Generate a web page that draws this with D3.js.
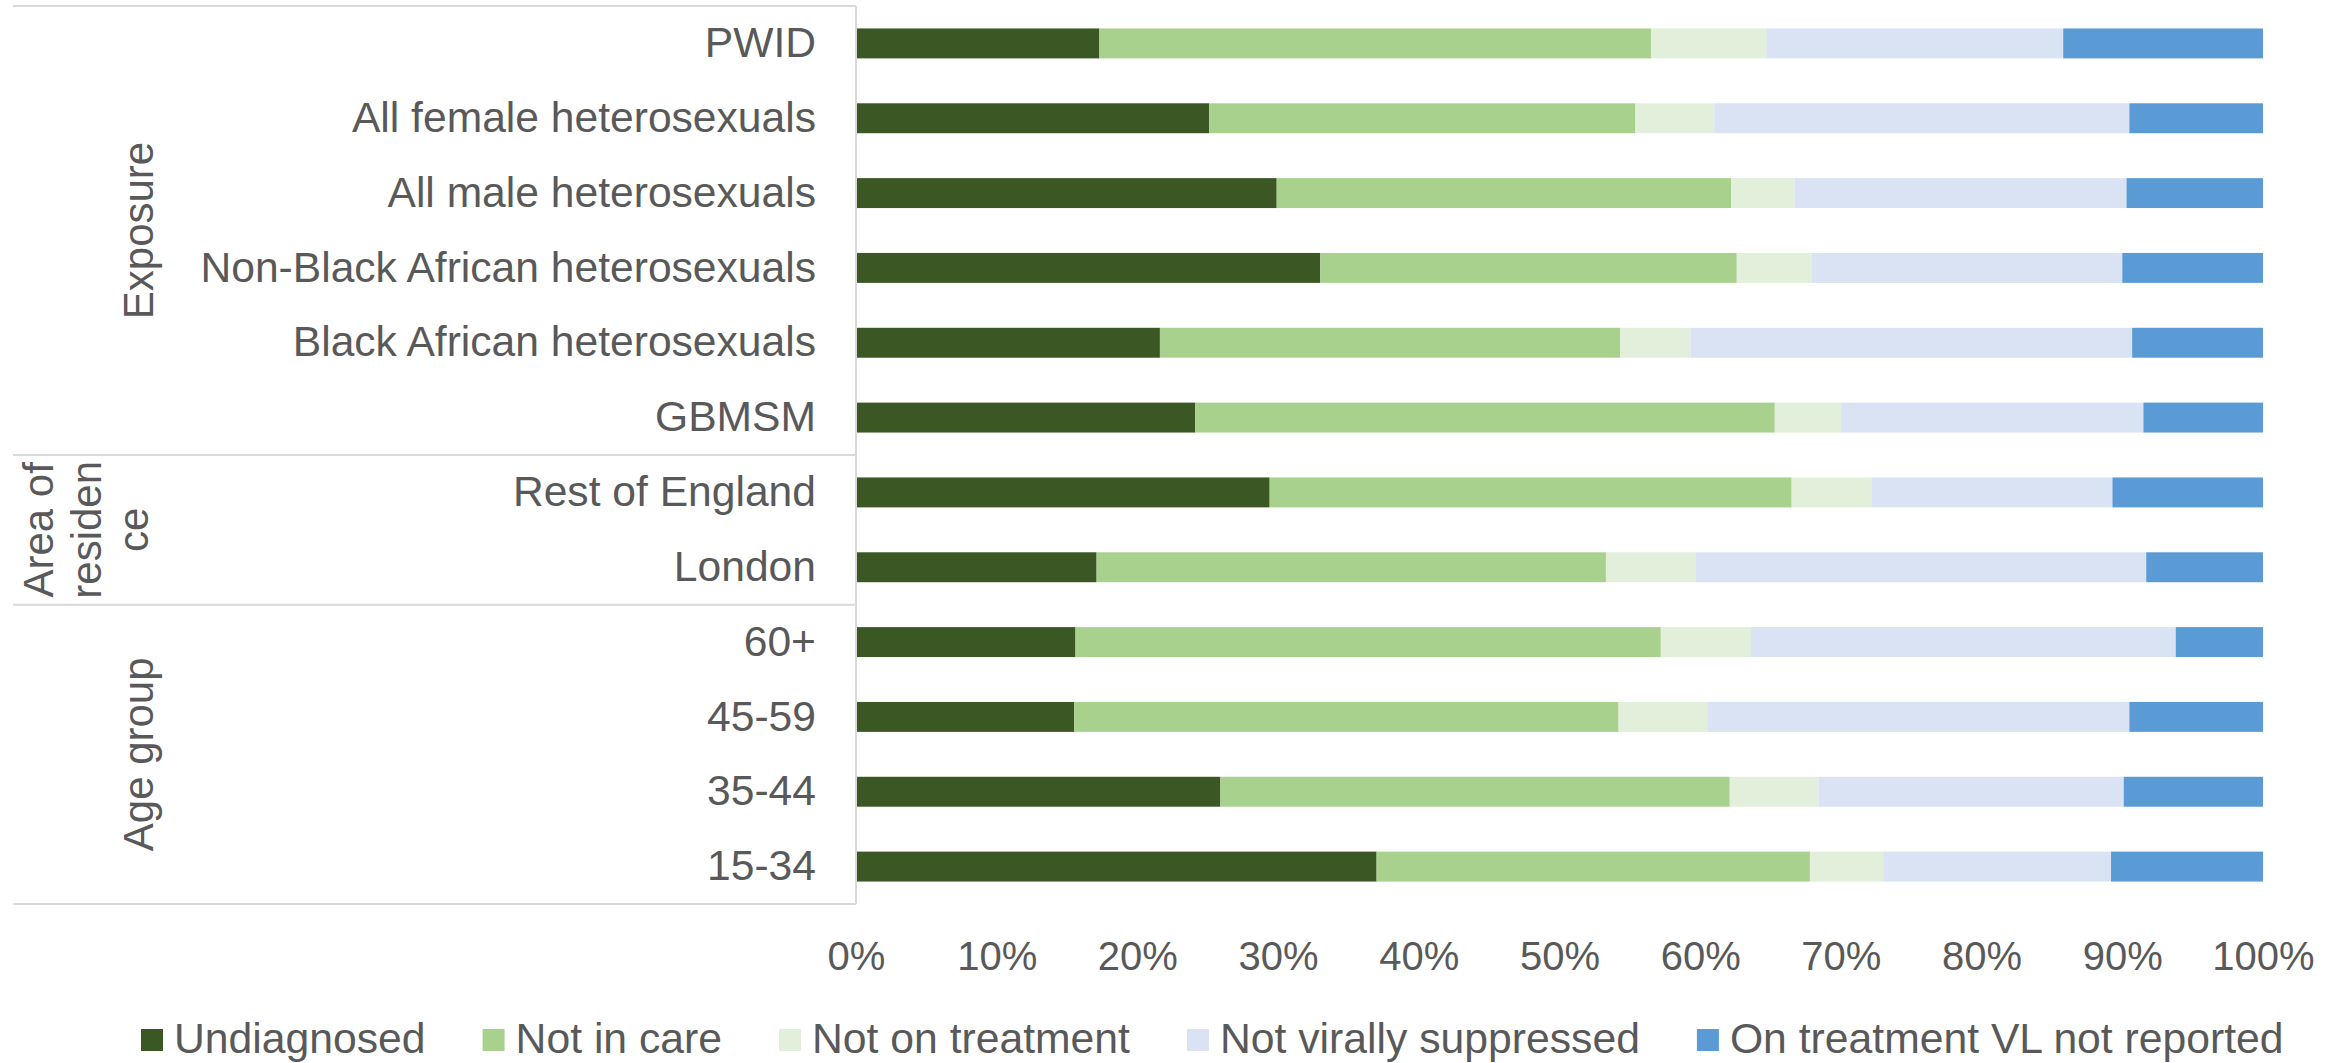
<!DOCTYPE html>
<html>
<head>
<meta charset="utf-8">
<script src="https://cdn.jsdelivr.net/npm/d3@7"></script>
<style>
  body { margin: 0; background: #fff; }
  text { font-family: "Liberation Sans", Arial, sans-serif; fill: #595959; }
</style>
</head>
<body>
<div id="chart"></div>
<script>
// categories, top to bottom
const categories = ["PWID", "All female heterosexuals", "All male heterosexuals",
  "Non-Black African heterosexuals", "Black African heterosexuals", "GBMSM",
  "Rest of England", "London", "60+", "45-59", "35-44", "15-34"];

const groupNames = [["Exposure"], ["Area of", "residen", "ce"], ["Age group"]];
const groupSizes = [6, 2, 4];

const seriesNames = ["Undiagnosed", "Not in care", "Not on treatment",
  "Not virally suppressed", "On treatment VL not reported"];
const seriesColors = ["#3a5724", "#a9d18e", "#e2efda", "#dae3f3", "#5b9bd5"];

// percentages, same order as categories
const undiagnosed   = [17.3, 25.1, 29.9, 33.0, 21.6, 24.1, 29.4, 17.1, 15.6, 15.5, 25.9, 37.0];
const notInCare     = [39.2, 30.3, 32.3, 29.6, 32.7, 41.2, 37.1, 36.2, 41.6, 38.7, 36.2, 30.8];
const notOnTreat    = [8.2, 5.6, 4.5, 5.3, 5.0, 4.7, 5.7, 6.4, 6.4, 6.3, 6.3, 5.2];
const notSuppressed = [21.1, 29.5, 23.6, 22.1, 31.4, 21.5, 17.1, 32.0, 30.2, 30.0, 21.7, 16.2];
const vlNotReported = [14.2, 9.5, 9.7, 10.0, 9.3, 8.5, 10.7, 8.3, 6.2, 9.5, 9.9, 10.8];

const tickValues = [0, 10, 20, 30, 40, 50, 60, 70, 80, 90, 100];

const allSeries = [undiagnosed, notInCare, notOnTreat, notSuppressed, vlNotReported];
const rows = categories.map((c, i) => {
  const r = { cat: c };
  seriesNames.forEach((s, j) => r[s] = allSeries[j][i]);
  return r;
});

const width = 2343, height = 1063;
const frameLeft = 13, plotLeft = 856, plotRight = 2263, plotTop = 6, plotBottom = 904;
const lineColor = "#d9d9d9";

const svg = d3.select("#chart").append("svg")
  .attr("width", width)
  .attr("height", height);

const x = d3.scaleLinear().domain([0, 100]).range([plotLeft, plotRight]);
const y = d3.scaleBand().domain(categories).range([plotTop, plotBottom])
  .paddingInner(0.6).paddingOuter(0.3);
const color = d3.scaleOrdinal().domain(seriesNames).range(seriesColors);

const stacked = d3.stack().keys(seriesNames)(rows);

svg.append("g")
  .selectAll("g")
  .data(stacked)
  .join("g")
  .attr("fill", d => color(d.key))
  .selectAll("rect")
  .data(d => d)
  .join("rect")
  .attr("x", d => x(d[0]))
  .attr("y", d => y(d.data.cat))
  .attr("width", d => x(d[1]) - x(d[0]))
  .attr("height", y.bandwidth());

// frame of the category table
const step = y.step();
const frame = svg.append("g").attr("stroke", lineColor).attr("stroke-width", 2);
frame.append("line")
  .attr("x1", plotLeft).attr("x2", plotLeft)
  .attr("y1", plotTop).attr("y2", plotBottom);
let idx = 0;
const bounds = [0];
groupSizes.forEach(n => { idx += n; bounds.push(idx); });
frame.selectAll("line.sep")
  .data(bounds)
  .join("line")
  .attr("class", "sep")
  .attr("x1", frameLeft).attr("x2", plotLeft)
  .attr("y1", d => plotTop + d * step)
  .attr("y2", d => plotTop + d * step);

// group labels, rotated
groupNames.forEach((lines, i) => {
  const yc = plotTop + (bounds[i] + bounds[i + 1]) / 2 * step;
  const t = svg.append("text")
    .attr("transform", `translate(${lines.length > 1 ? 53 : 153},${yc}) rotate(-90)`)
    .attr("text-anchor", "middle")
    .style("font-size", "42px");
  lines.forEach((l, k) => {
    t.append("tspan").attr("x", 0).attr("y", k * 47.5).text(l);
  });
});

// category axis
const yAxis = svg.append("g")
  .attr("transform", `translate(${plotLeft},0)`)
  .call(d3.axisLeft(y).tickSize(0).tickPadding(40));
yAxis.select(".domain").remove();
yAxis.selectAll("text")
  .style("font-size", "42.6px")
  .attr("font-family", null)
  .attr("fill", null);

// percent axis
const xAxis = svg.append("g")
  .attr("transform", `translate(0,${plotBottom})`)
  .call(d3.axisBottom(x).tickValues(tickValues).tickSize(0).tickPadding(38)
    .tickFormat(d => d + "%"));
xAxis.select(".domain").remove();
xAxis.selectAll("text")
  .style("font-size", "40px")
  .attr("fill", null);

// legend
const legend = svg.append("g").attr("transform", "translate(141,1029)");
let lx = 0;
seriesNames.forEach(s => {
  const item = legend.append("g").attr("transform", `translate(${lx},0)`);
  item.append("rect").attr("width", 22).attr("height", 22).attr("fill", color(s));
  const t = item.append("text")
    .attr("x", 33).attr("y", 24)
    .style("font-size", "42.7px")
    .text(s);
  lx += 33 + t.node().getComputedTextLength() + 57;
});
</script>
</body>
</html>
